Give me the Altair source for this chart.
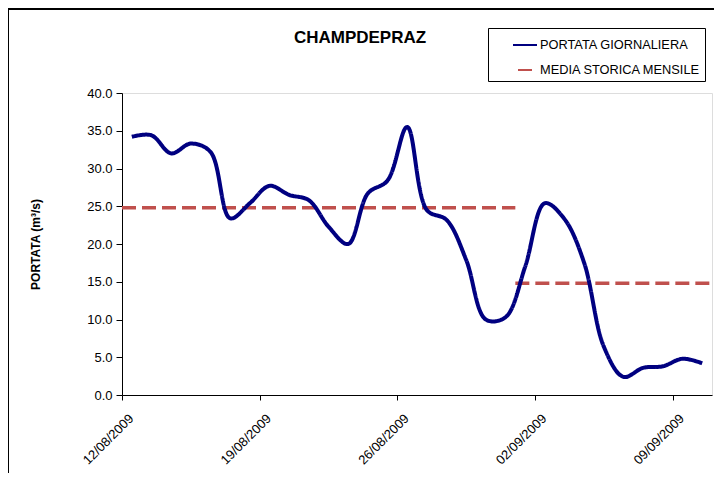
import altair as alt
import pandas as pd

# ---- data ----
dates = pd.date_range("2009-08-12", "2009-09-10", freq="D").strftime("%Y-%m-%d").tolist()
portata = [34.2, 34.4, 32.0, 33.3, 32.2, 23.4, 25.4, 27.7, 26.5, 25.8,
           22.3, 20.0, 26.7, 28.4, 35.5, 24.5, 23.2, 17.9, 10.0, 10.3,
           17.0, 25.4, 23.3, 17.5, 6.4, 2.4, 3.6, 3.8, 4.8, 4.2]
period_start = ["2009-08-12", "2009-09-01"]
period_end = ["2009-09-01", "2009-09-11"]
media_mensile = [24.8, 14.8]
tick_dates = ["2009-08-12", "2009-08-19", "2009-08-26", "2009-09-02", "2009-09-09"]
y_ticks = [0, 5, 10, 15, 20, 25, 30, 35, 40]
series_names = ["PORTATA GIORNALIERA", "MEDIA STORICA MENSILE"]
series_colors = ["#000080", "#C0504D"]
series_dash = [[1, 0], [14, 6]]

FONT = "Liberation Sans"
PAD = "\u00a0" * 3


def dt(s):
    y, m, d = (int(p) for p in s.split("-"))
    return alt.DateTime(year=y, month=m, date=d, utc=True)


daily = pd.DataFrame({"date": dates, "value": portata, "series": series_names[0]})
monthly = pd.DataFrame({"start": period_start, "end": period_end,
                        "value": media_mensile, "series": series_names[1]})

x_scale = alt.Scale(type="utc", domain=[dt("2009-08-12"), dt("2009-09-11")])
y_scale = alt.Scale(domain=[0, 40])
color_scale = alt.Scale(domain=series_names, range=series_colors)
dash_scale = alt.Scale(domain=series_names, range=series_dash)

x_axis = alt.Axis(values=[dt(t) for t in tick_dates], format="%d/%m/%Y",
                  labelAngle=-45, labelAlign="right", labelBaseline="middle",
                  labelPadding=16, labelOffset=9, labelFontSize=13, labelFont=FONT,
                  labelColor="black", grid=False, tickSize=5, tickColor="black",
                  domainColor="black", title=None)
y_axis = alt.Axis(values=y_ticks, format=".1f", grid=False, tickSize=6,
                  tickColor="black", domainColor="black", labelPadding=4,
                  labelFontSize=13, labelFont=FONT, labelColor="black",
                  title="PORTATA (m³/s)", titleFont=FONT, titleFontSize=12,
                  titleFontWeight="bold", titleColor="black", titlePadding=44)

legend = alt.Legend(
    orient="none", legendX=366, legendY=-65, title=None,
    symbolType="stroke", symbolSize=576, symbolOffset=20,
    symbolStrokeWidth=2, symbolDashOffset=-5,
    labelFont=FONT, labelFontSize=12.8, labelColor="black", labelOffset=2,
    labelLimit=400, labelExpr="datum.label + '" + PAD + "'",
    rowPadding=5, padding=4, strokeColor="black", fillColor="white",
)

frame = alt.Chart(alt.Data(values=[{}])).mark_rect(
    fill=None, stroke="black", strokeWidth=2, clip=False
).encode(x=alt.value(-114), y=alt.value(-84), x2=alt.value(720), y2=alt.value(500))

rules = alt.Chart(monthly).mark_rule(strokeWidth=3.5).encode(
    x=alt.X("start:T", scale=x_scale, axis=x_axis),
    x2="end:T",
    y=alt.Y("value:Q", scale=y_scale, axis=y_axis),
    color=alt.Color("series:N", scale=color_scale, legend=legend),
    strokeDash=alt.StrokeDash("series:N", scale=dash_scale, legend=legend),
)

line = alt.Chart(daily).transform_calculate(
    xpos="toDate(datum.date) + 12 * 3600 * 1000"
).mark_line(interpolate="catmull-rom", strokeWidth=4).encode(
    x=alt.X("xpos:T", scale=x_scale, axis=x_axis),
    y=alt.Y("value:Q", scale=y_scale, axis=y_axis),
    color=alt.Color("series:N", scale=color_scale, legend=legend),
    strokeDash=alt.StrokeDash("series:N", scale=dash_scale, legend=legend),
)

chart = alt.layer(frame, rules, line).properties(
    width=590, height=302,
    title=alt.TitleParams("CHAMPDEPRAZ", font=FONT, fontSize=17, fontWeight="bold",
                          color="black", anchor="middle", frame="group",
                          dx=-57, offset=0, dy=39),
    autosize=alt.AutoSizeParams(type="none"),
    padding={"left": 114, "top": 85, "right": 2, "bottom": 78},
).configure_view(stroke=None).configure(background="white")

chart.save("out.html", embed_options={"renderer": "svg", "actions": False})
